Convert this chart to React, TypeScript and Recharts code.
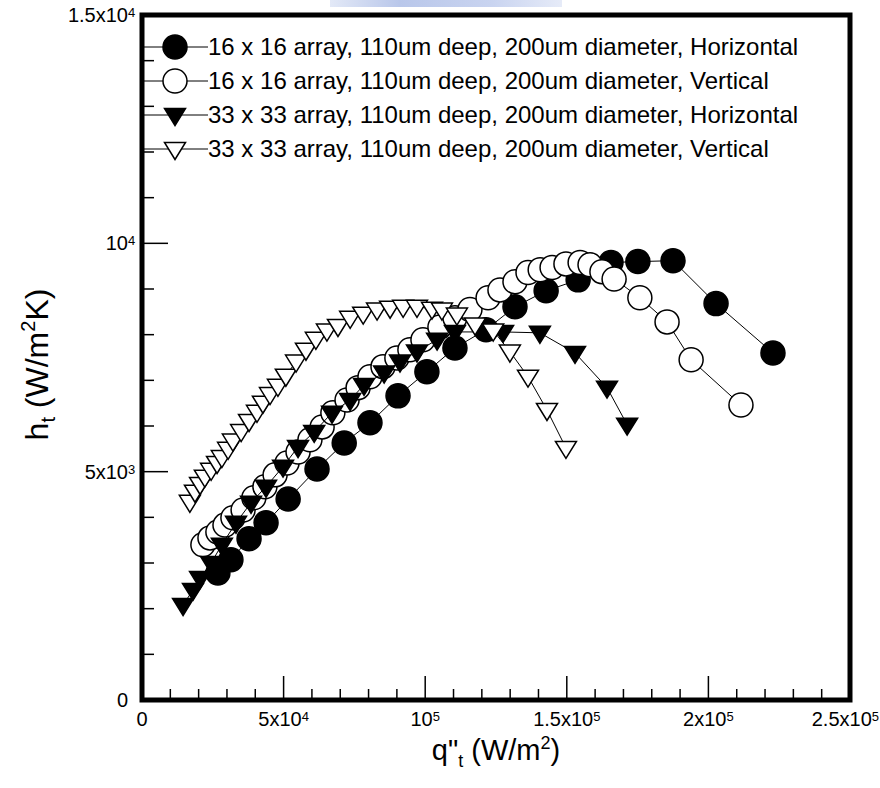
import React from "react";
import { ScatterChart, Scatter, XAxis, YAxis, ReferenceArea, Legend } from "recharts";

const FONT = "'Liberation Sans', Arial, Helvetica, sans-serif";

// ---- series names ----
const seriesNames = [
  "16 x 16 array, 110um deep, 200um diameter, Horizontal",
  "16 x 16 array, 110um deep, 200um diameter, Vertical",
  "33 x 33 array, 110um deep, 200um diameter, Horizontal",
  "33 x 33 array, 110um deep, 200um diameter, Vertical",
];

// ---- 16 x 16, Horizontal (filled circles) ----
const h16X = [26800, 31400, 37800, 43800, 51600, 61800, 71400, 80500, 90400, 100600, 110500, 121500, 131700, 142700, 154000, 165600, 175100, 187500, 202700, 222800];
const h16Y = [2780, 3070, 3530, 3880, 4400, 5060, 5630, 6070, 6660, 7190, 7710, 8110, 8610, 8960, 9200, 9580, 9600, 9620, 8680, 7600];

// ---- 16 x 16, Vertical (open circles) ----
const v16X = [21500, 24000, 26800, 29300, 32100, 35700, 39500, 43400, 47000, 51200, 55100, 59300, 63600, 67400, 72400, 76300, 80500, 85100, 90000, 94600, 99200, 105200, 110500, 115800, 122200, 126400, 131700, 136300, 140600, 144800, 149700, 154700, 158200, 162400, 166700, 175800, 185400, 193900, 211500];
const v16Y = [3400, 3550, 3680, 3830, 3990, 4160, 4430, 4670, 4930, 5190, 5430, 5700, 5980, 6290, 6570, 6840, 7080, 7300, 7490, 7670, 7890, 8170, 8370, 8550, 8810, 8980, 9160, 9360, 9420, 9470, 9550, 9580, 9530, 9380, 9220, 8810, 8280, 7450, 6460];

// ---- 33 x 33, Horizontal (filled down triangles) ----
const h33X = [14500, 18000, 20500, 24400, 28200, 33200, 38500, 43800, 49800, 55100, 60800, 67100, 73500, 78400, 85500, 91100, 97100, 104200, 110500, 127500, 140500, 152900, 164200, 171300];
const h33Y = [2080, 2410, 2670, 3000, 3400, 3880, 4320, 4670, 5110, 5540, 5870, 6290, 6570, 6900, 7170, 7410, 7630, 7890, 8060, 8060, 8040, 7600, 6840, 6030];

// ---- 33 x 33, Vertical (open down triangles) ----
const v33X = [16900, 18700, 20500, 22200, 24400, 26500, 28200, 30400, 32100, 35000, 37800, 40600, 42700, 45200, 48000, 50800, 54400, 57900, 61400, 65300, 69200, 73500, 78100, 83000, 87600, 92200, 97100, 102400, 105900, 111200, 117600, 124000, 129900, 136300, 143000, 149700];
const v33Y = [4340, 4560, 4730, 4890, 5040, 5190, 5320, 5500, 5680, 5890, 6110, 6310, 6510, 6700, 6880, 7100, 7410, 7670, 7910, 8090, 8190, 8370, 8460, 8550, 8590, 8610, 8610, 8570, 8550, 8440, 8220, 8090, 7630, 7080, 6350, 5520];

// ---- ticks ----
const xTicks = [0, 10000, 20000, 30000, 40000, 50000, 60000, 70000, 80000, 90000, 100000, 110000, 120000, 130000, 140000, 150000, 160000, 170000, 180000, 190000, 200000, 210000, 220000, 230000, 240000, 250000];
const xMajorTicks = [0, 50000, 100000, 150000, 200000, 250000];
const xTickBase = ["0", "5x10", "10", "1.5x10", "2x10", "2.5x10"];
const xTickSup = ["", "4", "5", "5", "5", "5"];

const yTicks = [0, 1000, 2000, 3000, 4000, 5000, 6000, 7000, 8000, 9000, 10000, 11000, 12000, 13000, 14000, 15000];
const yMajorTicks = [0, 5000, 10000, 15000];
const yTickBase = ["0", "5x10", "10", "1.5x10"];
const yTickSup = ["", "3", "4", "4"];

const toPoints = (xs: number[], ys: number[]) => xs.map((x, i) => ({ x, y: ys[i] }));

const MAJOR = 24;
const MINOR = 11;

function Marker({ cx, cy, kind, filled }: { cx: number; cy: number; kind: "circle" | "tri"; filled: boolean }) {
  const fill = filled ? "#000" : "#fff";
  if (kind === "circle") {
    return <circle cx={cx} cy={cy} r={12} fill={fill} stroke="#000" strokeWidth={1.5} />;
  }
  const w = 10.5, up = 6.5, down = 10.5;
  return (
    <polygon
      points={`${cx - w},${cy - up} ${cx + w},${cy - up} ${cx},${cy + down}`}
      fill={fill}
      stroke="#000"
      strokeWidth={1.5}
    />
  );
}

const seriesStyle: { kind: "circle" | "tri"; filled: boolean }[] = [
  { kind: "circle", filled: true },
  { kind: "circle", filled: false },
  { kind: "tri", filled: true },
  { kind: "tri", filled: false },
];

const seriesData = [toPoints(h16X, h16Y), toPoints(v16X, v16Y), toPoints(h33X, h33Y), toPoints(v33X, v33Y)];

function XBottomTick(props: any) {
  const { x, y, payload } = props;
  const idx = xMajorTicks.indexOf(payload.value);
  const major = idx >= 0;
  const last = idx === xMajorTicks.length - 1;
  return (
    <g>
      <line x1={x} x2={x} y1={y} y2={y - (major ? MAJOR : MINOR)} stroke="#000" strokeWidth={1.5} />
      {major && (
        <text
          x={last ? x + 29 : x}
          y={y + 26}
          textAnchor={last ? "end" : "middle"}
          fontFamily={FONT}
          fontSize={20}
          fill="#000"
        >
          {xTickBase[idx]}
          {xTickSup[idx] && (
            <tspan dy={-5} fontSize={13}>
              {xTickSup[idx]}
            </tspan>
          )}
        </text>
      )}
    </g>
  );
}

function XTopTick(props: any) {
  const { x, y, payload } = props;
  const major = xMajorTicks.indexOf(payload.value) >= 0;
  return <line x1={x} x2={x} y1={y} y2={y + (major ? MAJOR : MINOR)} stroke="#000" strokeWidth={1.5} />;
}

function YLeftTick(props: any) {
  const { x, y, payload } = props;
  const idx = yMajorTicks.indexOf(payload.value);
  const major = idx >= 0;
  return (
    <g>
      <line x1={x} x2={x + (major ? MAJOR + 2 : MINOR + 1)} y1={y} y2={y} stroke="#000" strokeWidth={1.5} />
      {major && (
        <g>
          <text x={x - 14} y={y + 7} textAnchor="end" fontFamily={FONT} fontSize={20} fill="#000">
            {yTickBase[idx]}
          </text>
          {yTickSup[idx] && (
            <text x={x - 14} y={y + 2} textAnchor="start" fontFamily={FONT} fontSize={13} fill="#000">
              {yTickSup[idx]}
            </text>
          )}
        </g>
      )}
    </g>
  );
}

function YRightTick(props: any) {
  const { x, y, payload } = props;
  const major = yMajorTicks.indexOf(payload.value) >= 0;
  return <line x1={x} x2={x - (major ? MAJOR + 2 : MINOR + 1)} y1={y} y2={y} stroke="#000" strokeWidth={1.5} />;
}

function XTitle(props: any) {
  const vb = props.viewBox || { x: 0, y: 0, width: 0, height: 0 };
  const cx = vb.x + vb.width / 2;
  const by = vb.y + 60;
  return (
    <text x={cx} y={by} textAnchor="middle" fontFamily={FONT} fontSize={29} fill="#000">
      q"
      <tspan dy={7} fontSize={18}>t</tspan>
      <tspan dy={-7}> (W/m</tspan>
      <tspan dy={-11} fontSize={18}>2</tspan>
      <tspan dy={11}>)</tspan>
    </text>
  );
}

function YTitle(props: any) {
  const vb = props.viewBox || { x: 0, y: 0, width: 0, height: 0 };
  const bx = vb.x + 48;
  const cy = vb.y + vb.height / 2 + 7;
  return (
    <text
      x={bx}
      y={cy}
      transform={`rotate(-90 ${bx} ${cy})`}
      textAnchor="middle"
      fontFamily={FONT}
      fontSize={32}
      fill="#000"
    >
      h
      <tspan dy={7} fontSize={20}>t</tspan>
      <tspan dy={-7}> (W/m</tspan>
      <tspan dy={-13} fontSize={20}>2</tspan>
      <tspan dy={13}>K)</tspan>
    </text>
  );
}

function LegendBox() {
  const rowH = 34;
  return (
    <svg width={700} height={140} style={{ display: "block", overflow: "visible" }}>
      {seriesNames.map((name, i) => {
        const cy = 17 + i * rowH;
        return (
          <g key={name}>
            <line x1={0} x2={66} y1={cy} y2={cy} stroke="#000" strokeWidth={1} />
            <Marker cx={33} cy={cy} kind={seriesStyle[i].kind} filled={seriesStyle[i].filled} />
            <text x={66} y={cy + 8} fontFamily={FONT} fontSize={24} fill="#000">
              {name}
            </text>
          </g>
        );
      })}
    </svg>
  );
}

export default function App() {
  return (
    <div style={{ width: 880, height: 788, background: "#fff", position: "relative", overflow: "hidden" }}>
      <style>{`body{margin:0;background:#fff}`}</style>
      <div
        style={{
          position: "absolute",
          left: 330,
          top: 0,
          width: 232,
          height: 7,
          background: "linear-gradient(90deg, #e3e9f7, #b9c7ea 30%, #c9d4f0 70%, #e6ebf8)",
        }}
      />
      <ScatterChart width={880} height={788} margin={{ top: 15, right: 30, left: 0, bottom: 0 }}>
        <XAxis
          xAxisId={0}
          type="number"
          dataKey="x"
          domain={[0, 250000]}
          ticks={xTicks}
          interval={0}
          tickSize={0}
          tickMargin={0}
          tick={<XBottomTick />}
          axisLine={false}
          tickLine={false}
          height={88}
          allowDataOverflow
          label={(p: any) => <XTitle {...p} />}
        />
        <XAxis
          xAxisId="top"
          orientation="top"
          type="number"
          domain={[0, 250000]}
          ticks={xTicks}
          interval={0}
          tickSize={0}
          tickMargin={0}
          tick={<XTopTick />}
          axisLine={false}
          tickLine={false}
          height={0}
          allowDataOverflow
        />
        <YAxis
          yAxisId={0}
          type="number"
          dataKey="y"
          domain={[0, 15000]}
          ticks={yTicks}
          interval={0}
          tickSize={0}
          tickMargin={0}
          tick={<YLeftTick />}
          axisLine={false}
          tickLine={false}
          width={142}
          allowDataOverflow
          label={(p: any) => <YTitle {...p} />}
        />
        <YAxis
          yAxisId="right"
          orientation="right"
          type="number"
          domain={[0, 15000]}
          ticks={yTicks}
          interval={0}
          tickSize={0}
          tickMargin={0}
          tick={<YRightTick />}
          axisLine={false}
          tickLine={false}
          width={0}
          allowDataOverflow
        />
        {seriesData.map((data, i) => (
          <Scatter
            key={seriesNames[i]}
            name={seriesNames[i]}
            data={data}
            xAxisId={0}
            yAxisId={0}
            line={{ stroke: "#000", strokeWidth: 1 }}
            isAnimationActive={false}
            shape={(p: any) => <Marker cx={p.cx} cy={p.cy} kind={seriesStyle[i].kind} filled={seriesStyle[i].filled} />}
          />
        ))}
        <ReferenceArea
          xAxisId={0}
          yAxisId={0}
          x1={0}
          x2={250000}
          y1={0}
          y2={15000}
          fill="none"
          fillOpacity={0}
          stroke="#000"
          strokeWidth={5}
          ifOverflow="visible"
        />
        <Legend
          layout="vertical"
          align="center"
          verticalAlign="middle"
          wrapperStyle={{ left: 142, top: 30, width: 700, height: 140 }}
          content={() => <LegendBox />}
        />
      </ScatterChart>
    </div>
  );
}
